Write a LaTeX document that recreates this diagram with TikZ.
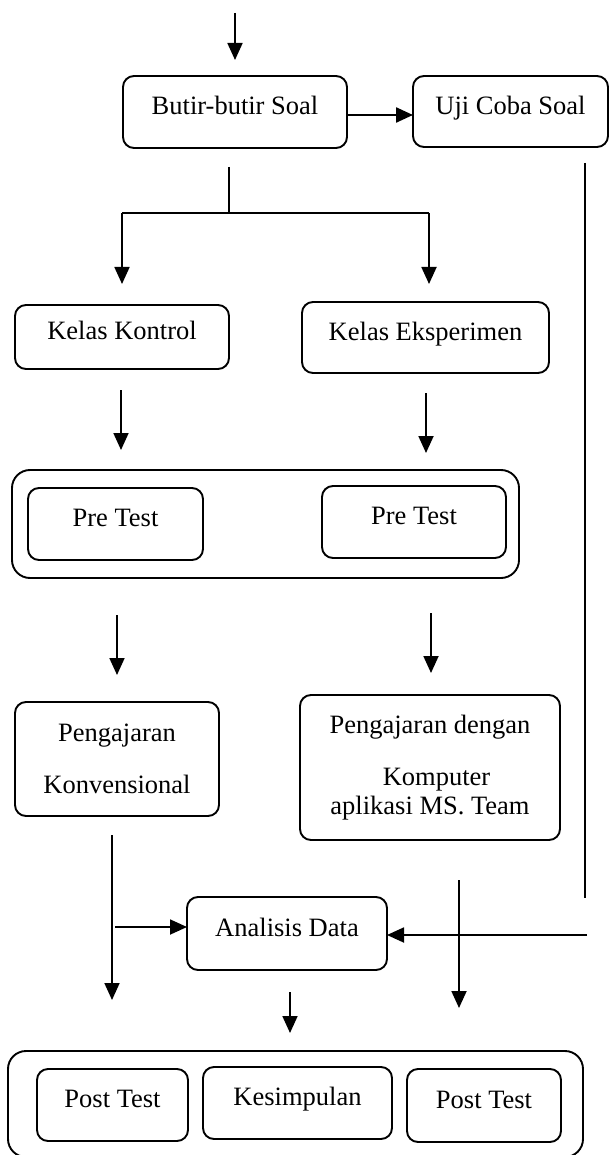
\documentclass[tikz,border=0pt]{standalone}
\usepackage{fontspec}
\setmainfont{Liberation Serif}
\usetikzlibrary{arrows.meta,calc}
\begin{document}
\begin{tikzpicture}[x=1pt,y=-1pt,
  box/.style={draw, line width=1.9pt, rounded corners=11pt, inner sep=0pt, outer sep=0pt,
    font=\fontsize{26.5}{28.5}\selectfont},
  bigbox/.style={draw, line width=1.9pt, rounded corners=18pt, inner sep=0pt, outer sep=0pt},
  one/.style={text height=18.5pt, text depth=13.3pt},
  arr/.style={line width=1.8pt, -{Triangle[length=17pt,width=15pt]}},
  ln/.style={line width=1.8pt}]
\useasboundingbox (0,0) rectangle (609,1155);
\fill[white] (0,0) rectangle (609,1155);

% outer group boxes
\node[bigbox, minimum width=507pt, minimum height=108pt] (preouter) at (265.5,524) {};
\node[bigbox, minimum width=575pt, minimum height=106pt] (postouter) at (295.5,1104) {};

% boxes
\node[box, one, minimum width=224pt, minimum height=72pt] (butir) at (235,112) {Butir-butir Soal};
\node[box, one, minimum width=195pt, minimum height=71pt] (uji) at (510.5,111.5) {Uji Coba Soal};
\node[box, one, minimum width=214pt, minimum height=64pt] (kontrol) at (122,337) {Kelas Kontrol};
\node[box, one, minimum width=247pt, minimum height=71pt] (eksper) at (425.5,337.5) {Kelas Eksperimen};
\node[box, one, minimum width=175pt, minimum height=72pt] (preL) at (115.5,524) {Pre Test};
\node[box, one, minimum width=184pt, minimum height=72pt] (preR) at (414,522) {Pre Test};
\node[box, align=center, minimum width=204pt, minimum height=114pt] (konv) at (117,759)
  {Pengajaran\\[23.5pt]Konvensional};
\node[box, align=center, minimum width=260pt, minimum height=145pt] (dengan) at (430,767.5)
  {Pengajaran dengan\\[23.5pt]\hspace*{13pt}Komputer\\aplikasi MS. Team};
\node[box, one, minimum width=200pt, minimum height=73pt] (analisis) at (287,933.5) {Analisis Data};
\node[box, one, minimum width=151pt, minimum height=72pt] (postL) at (112.5,1105) {Post Test};
\node[box, one, minimum width=189pt, minimum height=72pt] (kesim) at (297.5,1103) {Kesimpulan};
\node[box, one, minimum width=154pt, minimum height=73pt] (postR) at (484,1105.5) {Post Test};

% top arrow
\coordinate (a0) at (235,13);
\coordinate (a1) at (235,60);
\draw[arr] (a0) -- (a1);

% Butir -> Uji
\draw[arr, line width=2.4pt] ([yshift=-3pt]butir.east) -- ([yshift=-3pt]butir.east -| uji.west);

% branch
\coordinate (b0) at (229,167);
\coordinate (b1) at (229,213);
\coordinate (bl) at (122,213);
\coordinate (br) at (429,213);
\coordinate (bl2) at (122,284);
\coordinate (br2) at (429,284);
\draw[ln] (b0) -- (b1);
\draw[ln] (bl) -- (br);
\draw[arr] (bl) -- (bl2);
\draw[arr] (br) -- (br2);

% right long line from Uji Coba
\coordinate (r0) at (585,163);
\coordinate (r1) at (585,898);
\draw[ln] (r0) -- (r1);
\coordinate (r2) at (587,935);
\draw[arr] (r2) -- (r2 -| analisis.east);

% Kelas -> Pre Test
\coordinate (k0) at (121,390);
\coordinate (k1) at (121,450);
\draw[arr] (k0) -- (k1);
\coordinate (e0) at (426,393);
\coordinate (e1) at (426,453);
\draw[arr] (e0) -- (e1);

% Pre Test -> Pengajaran
\coordinate (p0) at (117,615);
\coordinate (p1) at (117,675);
\draw[arr] (p0) -- (p1);
\coordinate (q0) at (431,613);
\coordinate (q1) at (431,673);
\draw[arr] (q0) -- (q1);

% Konvensional -> Post Test (left long)
\coordinate (c0) at (112,835);
\coordinate (c1) at (112,1000);
\draw[arr] (c0) -- (c1);
\coordinate (c2) at (115,927);
\draw[arr] (c2) -- (c2 -| analisis.west);

% Dengan -> Post Test (middle)
\coordinate (d0) at (459,880);
\coordinate (d1) at (459,1008);
\draw[arr] (d0) -- (d1);

% Analisis -> Kesimpulan
\coordinate (s0) at (290,992);
\coordinate (s1) at (290,1033);
\draw[arr] (s0) -- (s1);
\end{tikzpicture}
\end{document}
